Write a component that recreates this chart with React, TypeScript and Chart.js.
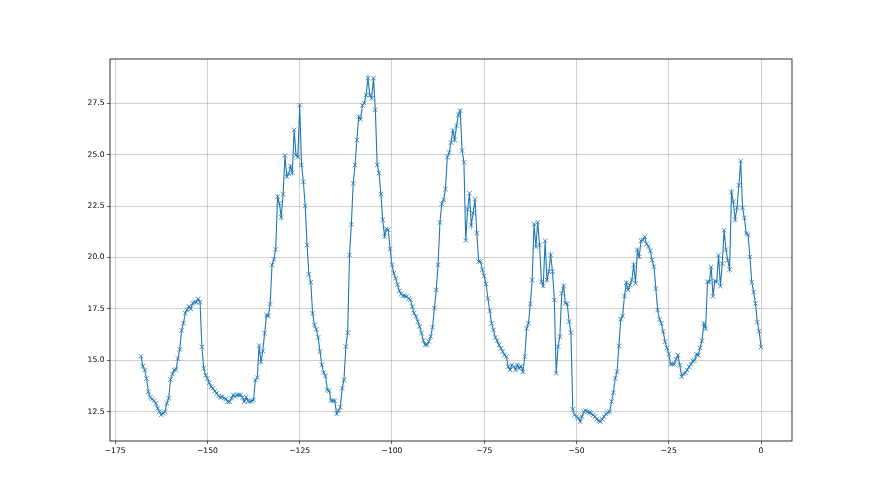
import React, { useEffect, useRef } from "react";
import { Chart, registerables } from "chart.js";

Chart.register(...registerables);

// Sampling grid of the series (hours, half-hour steps, ending at 0)
const xStart = -168;
const xStep = 0.5;

// Series values
const values: number[] = [
  15.19, 14.71, 14.52, 14.11, 13.47, 13.19, 13.11, 13.03, 12.9, 12.66,
  12.5, 12.34, 12.42, 12.5, 12.9, 13.15, 14.06, 14.32, 14.52, 14.55,
  15.08, 15.53, 16.45, 16.8, 17.29, 17.45, 17.61, 17.5, 17.77, 17.82,
  17.82, 17.98, 17.82, 15.65, 14.6, 14.27, 14.11, 13.9, 13.71, 13.63,
  13.5, 13.39, 13.26, 13.19, 13.23, 13.15, 13.1, 12.98, 12.98, 13.15,
  13.31, 13.23, 13.31, 13.31, 13.31, 13.19, 12.98, 13.2, 13.02, 12.99,
  13.02, 13.07, 14.04, 14.15, 15.71, 14.93, 15.45, 16.31, 17.2, 17.15,
  17.73, 19.63, 19.9, 20.39, 22.95, 22.63, 21.95, 23.07, 24.96, 23.93,
  24.06, 24.44, 24.12, 26.2, 24.98, 24.87, 27.41, 24.49, 23.68, 22.5,
  20.6, 19.18, 18.79, 17.28, 16.71, 16.5, 16.11, 15.42, 14.77, 14.4,
  14.23, 13.55, 13.52, 13.03, 13.03, 13.03, 12.39, 12.53, 12.71, 13.63,
  14.04, 15.66, 16.34, 20.12, 21.61, 23.6, 24.49, 25.71, 26.85, 26.72,
  27.39, 27.5, 27.9, 28.72, 27.9, 27.74, 28.72, 27.18, 24.5, 24.1,
  23.08, 21.83, 21.02, 21.39, 21.34, 20.42, 19.64, 19.23, 18.99, 18.67,
  18.38, 18.21, 18.13, 18.13, 18.1, 18.0, 17.94, 17.61, 17.29, 17.13,
  16.88, 16.64, 16.32, 15.96, 15.75, 15.75, 15.91, 16.15, 16.61, 17.53,
  18.42, 19.64, 21.7, 22.61, 22.8, 23.32, 24.87, 25.1, 25.59, 26.17,
  25.72, 26.4, 26.93, 27.14, 25.2, 24.62, 20.82, 22.34, 23.12, 21.56,
  22.15, 22.83, 21.18, 19.8, 19.8, 19.4, 19.09, 18.7, 18.0, 17.4,
  16.79, 16.47, 16.11, 15.95, 15.74, 15.58, 15.42, 15.26, 15.18, 14.69,
  14.53, 14.77, 14.69, 14.53, 14.77, 14.6, 14.7, 14.44, 15.18, 16.55,
  16.8, 17.74, 18.9, 21.62, 20.52, 21.71, 20.6, 18.82, 18.61, 20.81,
  18.9, 19.31, 20.12, 19.31, 17.93, 14.36, 15.66, 16.15, 18.25, 18.61,
  17.77, 17.74, 16.88, 16.34, 12.61, 12.34, 12.26, 12.18, 12.01, 12.26,
  12.5, 12.55, 12.5, 12.45, 12.42, 12.34, 12.26, 12.13, 12.05, 12.01,
  12.13, 12.26, 12.39, 12.45, 12.5, 12.99, 13.42, 14.12, 14.44, 15.69,
  16.99, 17.15, 18.12, 18.77, 18.42, 18.66, 18.9, 19.63, 18.74, 20.36,
  20.03, 20.81, 20.84, 21.0, 20.65, 20.55, 20.32, 19.87, 19.55, 18.49,
  17.44, 16.99, 16.79, 16.39, 15.9, 15.6, 15.3, 14.81, 14.81, 14.81,
  15.04, 15.25, 14.76, 14.2, 14.33, 14.39, 14.52, 14.68, 14.8, 14.97,
  15.0, 15.29, 15.24, 15.6, 15.94, 16.78, 16.54, 18.81, 18.81, 19.54,
  18.11, 18.86, 18.81, 20.11, 18.6, 19.7, 21.32, 20.38, 19.86, 19.41,
  23.18, 22.7, 21.84, 22.41, 23.51, 24.69, 22.41, 21.92, 21.16, 21.11,
  20.02, 18.79, 18.31, 17.76, 16.85, 16.41, 15.64,
];

// Tick positions
const xTicks: number[] = [-175, -150, -125, -100, -75, -50, -25, 0];
const yTicks: number[] = [12.5, 15.0, 17.5, 20.0, 22.5, 25.0, 27.5];

const xRange = [-176.4, 8.4];
const yRange = [11.07, 29.65];

const framePlugin = {
  id: "frame",
  afterDatasetsDraw(chart: any) {
    const { ctx, chartArea } = chart;
    ctx.save();
    ctx.strokeStyle = "#000000";
    ctx.lineWidth = 0.8;
    ctx.strokeRect(
      chartArea.left,
      chartArea.top,
      chartArea.right - chartArea.left,
      chartArea.bottom - chartArea.top
    );
    ctx.restore();
  },
};

export default function App() {
  const ref = useRef<HTMLCanvasElement | null>(null);

  useEffect(() => {
    document.body.style.margin = "0";
    const canvas = ref.current;
    if (!canvas) return;
    const font = { family: "'DejaVu Sans', sans-serif", size: 7.6 };
    const chart = new Chart(canvas, {
      type: "line",
      data: {
        datasets: [
          {
            data: values.map((v, i) => ({ x: xStart + i * xStep, y: v })),
            borderColor: "#1f77b4",
            backgroundColor: "#1f77b4",
            borderWidth: 1.1,
            tension: 0,
            fill: false,
            pointStyle: "crossRot",
            pointRadius: 3.2,
            pointBorderWidth: 0.8,
            pointBorderColor: "#1f77b4",
            pointHoverRadius: 3.2,
          },
        ],
      },
      options: {
        animation: false,
        responsive: false,
        maintainAspectRatio: false,
        events: [],
        layout: { padding: { left: 0, top: 59, right: 88, bottom: 0 } },
        plugins: {
          legend: { display: false },
          tooltip: { enabled: false },
        },
        scales: {
          x: {
            type: "linear",
            min: xRange[0],
            max: xRange[1],
            afterBuildTicks: (scale: any) => {
              scale.ticks = xTicks.map((v) => ({ value: v }));
            },
            afterFit: (scale: any) => {
              scale.height = 54;
            },
            grid: {
              color: "#b0b0b0",
              lineWidth: 0.6,
              tickColor: "#000000",
              tickLength: 3,
              drawTicks: true,
            },
            border: { display: false },
            ticks: {
              color: "#000000",
              font,
              padding: 2.5,
              maxRotation: 0,
              autoSkip: false,
              callback: (v: any) => {
                const n = Number(v);
                return n < 0 ? "\u2212" + Math.abs(n).toString() : n.toString();
              },
            },
          },
          y: {
            type: "linear",
            min: yRange[0],
            max: yRange[1],
            afterBuildTicks: (scale: any) => {
              scale.ticks = yTicks.map((v) => ({ value: v }));
            },
            afterFit: (scale: any) => {
              scale.width = 110;
            },
            grid: {
              color: "#b0b0b0",
              lineWidth: 0.6,
              tickColor: "#000000",
              tickLength: 3,
              drawTicks: true,
            },
            border: { display: false },
            ticks: {
              color: "#000000",
              font,
              padding: 2.5,
              autoSkip: false,
              callback: (v: any) => Number(v).toFixed(1),
            },
          },
        },
      },
      plugins: [framePlugin],
    });
    return () => chart.destroy();
  }, []);

  return (
    <div style={{ position: "absolute", left: 0, top: 0, width: 880, height: 495, background: "#ffffff" }}>
      <canvas ref={ref} width={880} height={495} style={{ display: "block", width: 880, height: 495 }} />
    </div>
  );
}
